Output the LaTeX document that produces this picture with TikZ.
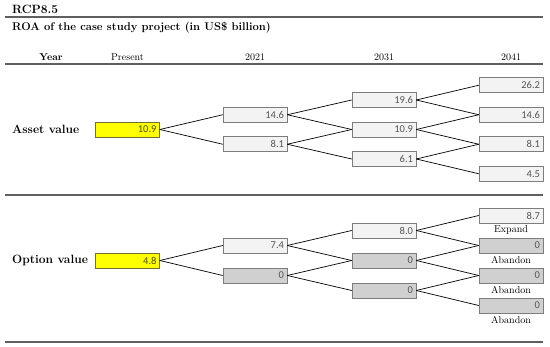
\documentclass[tikz,border=0pt]{standalone}
\usepackage{fontspec}
\newfontfamily\numfont{Carlito}
\usetikzlibrary{positioning}
\definecolor{BoxYellow}{RGB}{255,255,0}
\definecolor{BoxLight}{RGB}{243,243,243}
\definecolor{BoxDark}{RGB}{208,208,208}
\definecolor{BoxEdge}{RGB}{125,125,125}
\definecolor{NumGray}{RGB}{85,85,85}
\definecolor{RuleGray}{RGB}{95,95,95}

\begin{document}
\begin{tikzpicture}[x=1pt, y=-1pt,
    val/.style={draw=BoxEdge, line width=0.6pt, minimum height=15pt, text width=58pt, inner xsep=3pt, inner ysep=0pt, align=right, font=\numfont\fontsize{10.5}{12}\selectfont, text=NumGray},
    light/.style={val, fill=BoxLight},
    dark/.style={val, fill=BoxDark},
    now/.style={val, fill=BoxYellow, draw=black!60!BoxYellow!60!gray, text=black!70!BoxYellow},
    link/.style={line width=0.7pt},
    rule/.style={draw=RuleGray, line width=1.2pt},
    head/.style={anchor=base, font=\fontsize{10}{12}\selectfont},
    rowname/.style={anchor=base west, inner sep=0pt, font=\bfseries\fontsize{12}{14}\selectfont},
    tag/.style={below=1.5pt of #1, inner sep=1pt, font=\fontsize{10}{12}\selectfont}]
  \useasboundingbox (0,0) rectangle (550,347);
  % titles and rules
  \node[rowname] (rcp) at (12,13.3) {RCP8.5};
  \node[rowname, font=\bfseries\fontsize{11.2}{13}\selectfont] (title) at (12,30.7) {ROA of the case study project (in US\$ billion)};
  \draw[rule] (5,17) -- (543,17);
  \draw[rule] (5,64) -- (543,64);
  \draw[rule] (5,195) -- (543,195);
  \draw[rule] (5,342) -- (543,342);
  \node[head] (hyear) at (51,60.7) {\textbf{Year}};
  \node[head] (hnow) at (127.5,60.7) {Present};
  \node[head] (h1) at (255,60.7) {2021};
  \node[head] (h2) at (384,60.7) {2031};
  \node[head] (h3) at (511,60.7) {2041};
  % asset value tree
  \node[rowname] (asset) at (12,133.3) {Asset value};
  \node[now] (a0) at (127.5,129.5) {10.9};
  \node[light] (a11) at (255,114.75) {14.6};
  \node[light] (a12) at (255,144.25) {8.1};
  \node[light] (a21) at (384,100) {19.6};
  \node[light] (a22) at (384,129.5) {10.9};
  \node[light] (a23) at (384,159) {6.1};
  \node[light] (a31) at (511,85.25) {26.2};
  \node[light] (a32) at (511,114.75) {14.6};
  \node[light] (a33) at (511,144.25) {8.1};
  \node[light] (a34) at (511,173.75) {4.5};
  % option value tree
  \node[rowname] (option) at (12,264) {Option value};
  \node[now] (o0) at (127.5,260.5) {4.8};
  \node[light] (o11) at (255,245.5) {7.4};
  \node[dark] (o12) at (255,275.5) {0};
  \node[light] (o21) at (384,230.5) {8.0};
  \node[dark] (o22) at (384,260.5) {0};
  \node[dark] (o23) at (384,290.5) {0};
  \node[light] (o31) at (511,215.5) {8.7};
  \node[dark] (o32) at (511,245.5) {0};
  \node[dark] (o33) at (511,275.5) {0};
  \node[dark] (o34) at (511,305.5) {0};
  \node[tag=o31] (t31) {Expand};
  \node[tag=o32] (t32) {Abandon};
  \node[tag=o33] (t33) {Abandon};
  \node[tag=o34] (t34) {Abandon};
  \foreach \p/\c in {a0/a11, a0/a12, a11/a21, a11/a22, a12/a22, a12/a23, a21/a31, a21/a32, a22/a32, a22/a33, a23/a33, a23/a34,
                     o0/o11, o0/o12, o11/o21, o11/o22, o12/o22, o12/o23, o21/o31, o21/o32, o22/o32, o22/o33, o23/o33, o23/o34}
    \draw[link] (\p.east) -- (\c.west);
\end{tikzpicture}
\end{document}
